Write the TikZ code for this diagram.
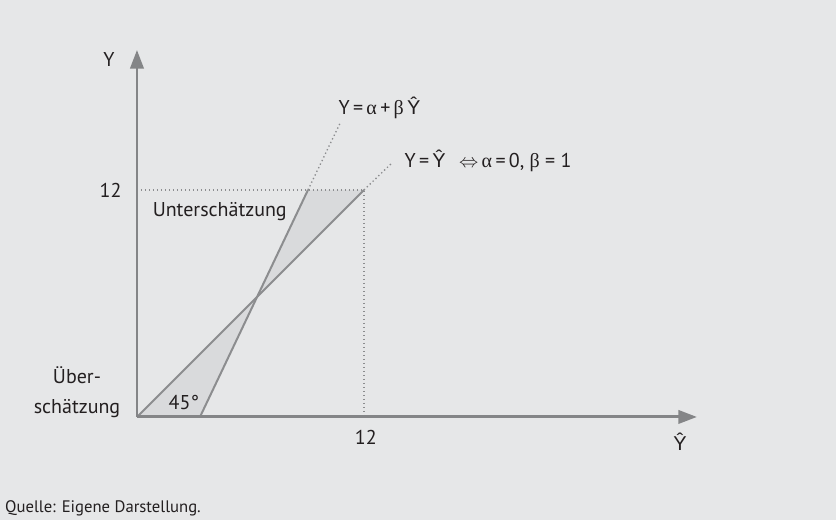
\documentclass[tikz,border=0pt]{standalone}
\usepackage{fontspec}
\setmainfont{PT Sans}
\newfontfamily\grk{Liberation Serif}
\newfontfamily\hatfont{Liberation Sans}
\newcommand{\yhat}{{\hatfont Ŷ}}
\usepackage{tikz}
\usetikzlibrary{arrows.meta, positioning}
\definecolor{bgpanel}{HTML}{E6E7E8}
\definecolor{axisgray}{HTML}{848587}
\definecolor{linegray}{HTML}{8C8D8F}
\definecolor{shade}{HTML}{D9DADC}
\definecolor{ink}{HTML}{231F20}
\tikzset{
	axis/.style={line width=2.2pt, axisgray, -{Triangle[length=14pt, width=10pt]}},
	regline/.style={line width=1.5pt, linegray},
	guide/.style={line width=1pt, linegray, dotted},
	zone/.style={fill=shade, draw=none},
	lbl/.style={text=ink, inner sep=2pt, font=\fontsize{15}{22.5}\selectfont},
}

\begin{document}
\begin{tikzpicture}[x=14.19pt, y=14.19pt]
	\path[use as bounding box, fill=bgpanel] (-7.24,-5.44) rectangle (36.95,22.04);
	% key points
	\coordinate (O) at (0,0);
	\coordinate (xtip) at (29.6,0);
	\coordinate (ytip) at (0,19.4);
	\coordinate (x12) at (12,0);
	\coordinate (y12) at (0,12);
	\coordinate (p12) at (12,12);
	\coordinate (b0) at (3.33,0);
	\coordinate (b12) at (9.04,12);
	\coordinate (bend) at (10.78,15.62);
	\coordinate (dend) at (13.45,13.4);
	\coordinate (S) at (intersection of O--p12 and b0--b12);
	% shaded zones
	\fill[zone] (O) -- (b0) -- (S) -- cycle;
	\fill[zone] (S) -- (b12) -- (p12) -- cycle;
	% guides
	\draw[guide] (y12) -- (p12) -- (x12);
	\draw[guide] (b12) -- (bend);
	\draw[guide] (p12) -- (dend);
	% lines
	\draw[regline] (O) -- (p12);
	\draw[regline] (b0) -- (b12);
	% axes
	\draw[axis] (O) -- (ytip);
	\draw[axis] (O) -- (xtip);
	% labels
	\node[lbl] (ylab) at (-1.48,18.92) {Y};
	\node[lbl, left=9.4pt of y12] (ytick) {12};
	\node[lbl] (xtick) at (12.1,-1.08) {12};
	\node[lbl] (xlab) at (28.7,-1.32) {\yhat};
	\node[lbl, anchor=west] (under) at (0.68,10.83) {Unterschätzung};
	\node[lbl, align=center] (over) at (-3.17,1.32) {Über-\\schätzung};
	\node[lbl] (angle) at (2.48,0.74) {45°};
	\node[lbl, anchor=base west] (eqfit) at (10.5,16.01) {Y\,=\,{\grk α}\,+\,{\grk β}\,\yhat};
	\node[lbl, anchor=base west] (eqdiag) at (13.99,13.21) {Y\,=\,\yhat\enspace\,$\Leftrightarrow$\,{\grk α}\,=\,0, {\grk β} = 1};
	\node[text=ink, inner sep=0pt, anchor=west, font=\fontsize{12.5}{15}\selectfont] (src) at (-6.98,-4.81) {Quelle: Eigene Darstellung.};
\end{tikzpicture}
\end{document}
